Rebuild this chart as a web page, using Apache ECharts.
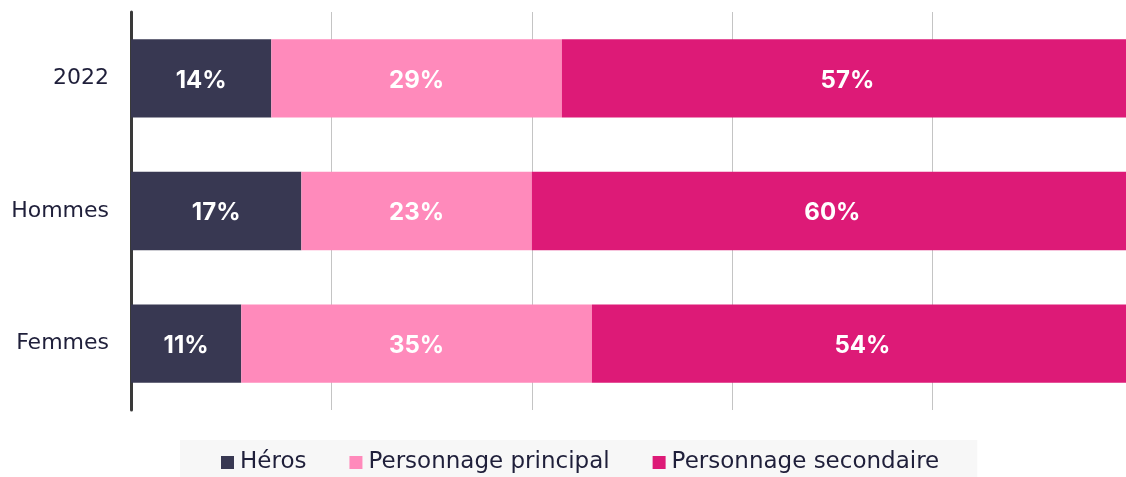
<!DOCTYPE html>
<html><head><meta charset="utf-8">
<script src="https://cdn.jsdelivr.net/npm/echarts@6/dist/echarts.min.js"></script>
<style>html,body{margin:0;padding:0;background:#fff;overflow:hidden}#c{width:1134px;height:477px}</style>
</head><body><div id="c"></div>
<script>
const categories = ['Femmes', 'Hommes', '2022'];
const seriesNames = ['Héros', 'Personnage principal', 'Personnage secondaire'];
const heros = [11, 17, 14];
const principal = [35, 23, 29];
const secondaire = [54, 60, 57];
const colors = ['#383852', '#FF8ABB', '#DD1A77'];

const chart = echarts.init(document.getElementById('c'), null, {renderer: 'canvas'});
const textFont = '"DejaVu Sans", "Noto Sans", sans-serif';
const labelFont = 'Inter, "Noto Sans", sans-serif';
function mk(name, data, color) {
  return {
    name, type: 'bar', stack: 'total', data, barWidth: '59%',
    itemStyle: {color},
    label: {show: true, position: 'inside', formatter: '{c}%', color: '#fff',
      fontFamily: labelFont, fontWeight: 'bold', fontSize: 24, offset: [0, 2]}
  };
}
chart.setOption({
  animation: false,
  grid: {left: 131, right: 1, top: 12, bottom: 67},
  legend: {
    top: 440, left: 180,
    data: seriesNames, icon: 'rect', itemWidth: 13, itemHeight: 13, itemGap: 43,
    backgroundColor: '#f7f7f7', padding: [11, 38, 11, 41],
    textStyle: {fontFamily: textFont, fontSize: 23, color: '#1f1f3a', padding: [0, 0, 0, 1]}
  },
  xAxis: {
    type: 'value', min: 0, max: 100, interval: 20,
    axisLabel: {show: false}, axisTick: {show: false}, axisLine: {show: false},
    splitLine: {show: true, lineStyle: {color: '#c4c4c4', width: 1}}
  },
  yAxis: {
    type: 'category', data: categories,
    axisLine: {show: true, lineStyle: {color: '#3a3a3a', width: 3}},
    axisTick: {show: false},
    axisLabel: {fontFamily: textFont, fontSize: 22, color: '#1f1f3a', margin: 22}
  },
  series: [mk(seriesNames[0], heros, colors[0]), mk(seriesNames[1], principal, colors[1]), mk(seriesNames[2], secondaire, colors[2])]
});
</script></body></html>
